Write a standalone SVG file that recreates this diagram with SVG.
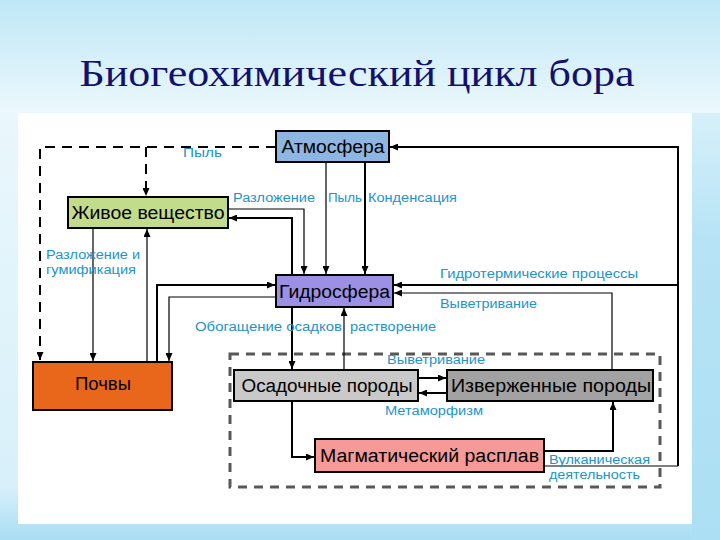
<svg xmlns="http://www.w3.org/2000/svg" width="720" height="540" viewBox="0 0 720 540">
<defs>
<linearGradient id="bg" x1="0" y1="0" x2="0" y2="1">
<stop offset="0" stop-color="#bfe7f6"/>
<stop offset="0.2" stop-color="#eaf7fc"/>
<stop offset="0.9" stop-color="#d8f0fa"/>
<stop offset="1" stop-color="#a9ddf3"/>
</linearGradient>
<linearGradient id="side" x1="0" y1="0" x2="0" y2="1">
<stop offset="0" stop-color="#d6f0fa"/>
<stop offset="0.3" stop-color="#b6e3f5"/>
<stop offset="1" stop-color="#acdff3"/>
</linearGradient>
<marker id="ah" markerUnits="userSpaceOnUse" markerWidth="8" markerHeight="7" refX="8" refY="3.5" orient="auto">
<path d="M0,0 L8,3.5 L0,7 z" fill="#000"/>
</marker>
<style>
.box{stroke:#000;stroke-width:2}
.nt{font-family:"Liberation Sans",Arial,sans-serif;font-size:18px;fill:#000}
.lb{font-family:"Liberation Sans",Arial,sans-serif;font-size:12px;fill:#2294c9}
.c{fill:none;stroke:#000}
.thin{stroke-width:1.2}
.thick{stroke-width:2}
.dash{stroke-width:2;stroke-dasharray:10,7}
</style>
</defs>
<rect x="0" y="0" width="720" height="540" fill="url(#bg)"/>
<rect x="692" y="113" width="28" height="427" fill="url(#side)"/>
<rect x="18" y="113" width="674" height="411" fill="#ffffff"/>
<text x="357" y="86" text-anchor="middle" font-family="'Liberation Serif','Times New Roman',serif" font-size="38" fill="#12126e" textLength="555" lengthAdjust="spacingAndGlyphs">Биогеохимический цикл бора</text>

<rect x="230" y="354" width="430" height="133" fill="none" stroke="#595959" stroke-width="3" stroke-dasharray="9,7"/>

<g id="connectors">
<path class="c dash" d="M276,147 H40 V360" marker-end="url(#ah)"/>
<path class="c dash" d="M146,147 V196" marker-end="url(#ah)"/>
<path class="c thin" d="M93,228 V361" marker-end="url(#ah)"/>
<path class="c thin" d="M147,362 V229" marker-end="url(#ah)"/>
<path class="c thin" d="M228,209 H304 V274" marker-end="url(#ah)"/>
<path class="c thick" d="M292,275 V218 H229" marker-end="url(#ah)"/>
<path class="c thin" d="M326,162 V274" marker-end="url(#ah)"/>
<path class="c thick" d="M365,162 V274" marker-end="url(#ah)"/>
<path class="c thin" d="M544,466 H678"/>
<path class="c thick" d="M678,466 V147 H390" marker-end="url(#ah)"/>
<path class="c thick" d="M678,285 H394" marker-end="url(#ah)"/>
<path class="c thin" d="M612,370 V293 H394" marker-end="url(#ah)"/>
<path class="c thick" d="M157,362 V285 H275" marker-end="url(#ah)"/>
<path class="c thin" d="M276,297 H169 V361" marker-end="url(#ah)"/>
<path class="c thick" d="M292,307 V369" marker-end="url(#ah)"/>
<path class="c thin" d="M344,370 V308" marker-end="url(#ah)"/>
<path class="c thick" d="M418,378 H446" marker-end="url(#ah)"/>
<path class="c thick" d="M447,393 H419" marker-end="url(#ah)"/>
<path class="c thick" d="M292,401 V457 H314" marker-end="url(#ah)"/>
<path class="c thick" d="M544,451 H613 V402" marker-end="url(#ah)"/>
</g>

<g id="labels">
<text class="lb" x="183" y="157" textLength="39" lengthAdjust="spacingAndGlyphs">Пыль</text>
<text class="lb" x="233" y="202" textLength="82" lengthAdjust="spacingAndGlyphs">Разложение</text>
<text class="lb" x="328" y="202" textLength="34" lengthAdjust="spacingAndGlyphs">Пыль</text>
<text class="lb" x="368" y="202" textLength="89" lengthAdjust="spacingAndGlyphs">Конденсация</text>
<text class="lb" x="46" y="259" textLength="94" lengthAdjust="spacingAndGlyphs">Разложение и</text>
<text class="lb" x="46" y="274" textLength="90" lengthAdjust="spacingAndGlyphs">гумификация</text>
<text class="lb" x="440" y="278" textLength="198" lengthAdjust="spacingAndGlyphs">Гидротермические процессы</text>
<text class="lb" x="440" y="308" textLength="97" lengthAdjust="spacingAndGlyphs">Выветривание</text>
<text class="lb" x="195" y="331" textLength="147" lengthAdjust="spacingAndGlyphs">Обогащение осадков</text>
<text class="lb" x="350" y="331" textLength="86" lengthAdjust="spacingAndGlyphs">растворение</text>
<text class="lb" x="387" y="364" textLength="98" lengthAdjust="spacingAndGlyphs">Выветривание</text>
<text class="lb" x="385" y="415" textLength="98" lengthAdjust="spacingAndGlyphs">Метаморфизм</text>
<text class="lb" x="549" y="464" textLength="101" lengthAdjust="spacingAndGlyphs">Вулканическая</text>
<text class="lb" x="549" y="479" textLength="91" lengthAdjust="spacingAndGlyphs">деятельность</text>
</g>

<g id="atmosfera">
<rect class="box" x="276" y="131" width="113" height="31" fill="#8db6e2"/>
<text class="nt" x="333" y="153" text-anchor="middle" textLength="103" lengthAdjust="spacingAndGlyphs">Атмосфера</text>
</g>
<g id="zhivoe">
<rect class="box" x="68" y="197" width="160" height="31" fill="#c3dc8c"/>
<text class="nt" x="148" y="219" text-anchor="middle" textLength="153" lengthAdjust="spacingAndGlyphs">Живое вещество</text>
</g>
<g id="gidrosfera">
<rect class="box" x="276" y="275" width="117" height="32" fill="#9b90e4"/>
<text class="nt" x="334.5" y="298" text-anchor="middle" textLength="111" lengthAdjust="spacingAndGlyphs">Гидросфера</text>
</g>
<g id="pochvy">
<rect class="box" x="33" y="362" width="139" height="48" fill="#e9671b"/>
<text class="nt" x="103" y="390" text-anchor="middle" textLength="56" lengthAdjust="spacingAndGlyphs">Почвы</text>
</g>
<g id="osadochnye">
<rect class="box" x="234" y="370" width="184" height="31" fill="#c9c9c9"/>
<text class="nt" x="327" y="392" text-anchor="middle" textLength="171" lengthAdjust="spacingAndGlyphs">Осадочные породы</text>
</g>
<g id="izverzhennye">
<rect class="box" x="447" y="370" width="206" height="31" fill="#a2a2a2"/>
<text class="nt" x="551" y="392" text-anchor="middle" textLength="200" lengthAdjust="spacingAndGlyphs">Изверженные породы</text>
</g>
<g id="magma">
<rect class="box" x="315" y="439" width="229" height="33" fill="#f69a98"/>
<text class="nt" x="429.5" y="462" text-anchor="middle" textLength="219" lengthAdjust="spacingAndGlyphs">Магматический расплав</text>
</g>
</svg>
